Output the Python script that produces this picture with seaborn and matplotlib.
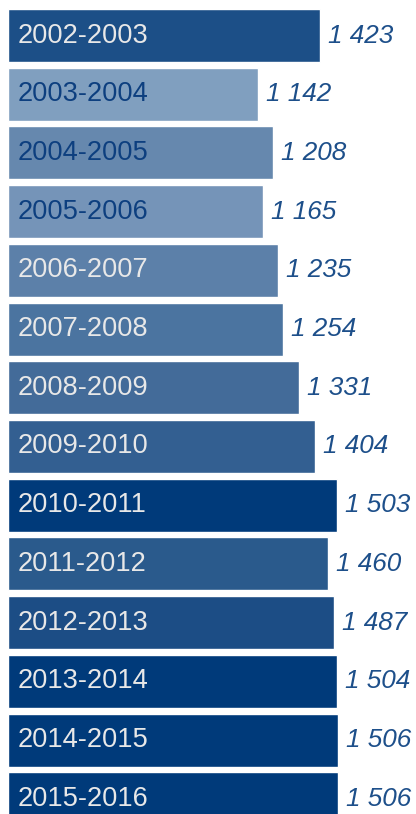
import pandas as pd
import matplotlib
matplotlib.use("Agg")
import matplotlib.pyplot as plt
import seaborn as sns

# données
periodes = ["2002-2003", "2003-2004", "2004-2005", "2005-2006", "2006-2007",
            "2007-2008", "2008-2009", "2009-2010", "2010-2011", "2011-2012",
            "2012-2013", "2013-2014", "2014-2015", "2015-2016"]
valeurs = [1423, 1142, 1208, 1165, 1235, 1254, 1331, 1404, 1503, 1460,
           1487, 1504, 1506, 1506]
couleurs = ["#1c4f87", "#809fbf", "#6688ae", "#7594b8", "#5c80a9",
            "#4b74a0", "#436b99", "#335f91", "#003a7a", "#2a5a8c",
            "#1c4d85", "#003a7a", "#003a7a", "#003a7a"]
couleurs_texte = ["#e8e8e8", "#0d3f7f", "#0d3f7f", "#0d3f7f", "#e8e8e8",
                  "#e8e8e8", "#e8e8e8", "#e8e8e8", "#e8e8e8", "#e8e8e8",
                  "#e8e8e8", "#e8e8e8", "#e8e8e8", "#e8e8e8"]

df = pd.DataFrame({"periode": periodes, "valeur": valeurs})

sns.set_style("white")
plt.rcParams["font.family"] = ["Liberation Sans", "DejaVu Sans"]

fig = plt.figure(figsize=(4.16, 8.14), dpi=100)
ax = fig.add_axes([8 / 416, 0, 408 / 416, 1])

sns.barplot(data=df, y="periode", x="valeur", hue="periode",
            palette=couleurs, legend=False, width=0.903, ax=ax,
            orient="h", saturation=1)

ax.set_xlim(0, 408 / 0.219)
ax.set_ylim(13.26, -0.605)

for i, (p, v) in enumerate(zip(periodes, valeurs)):
    ax.text(10 / 0.219, i, p, va="center", ha="left", fontsize=19.6,
            color=couleurs_texte[i])
    txt = f"{v:,}".replace(",", " ")
    ax.text(v + 8 / 0.219, i, txt, va="center", ha="left", fontsize=18.8,
            style="italic", color="#1d4f8a")

ax.axis("off")
fig.savefig("out.png", dpi=100)
